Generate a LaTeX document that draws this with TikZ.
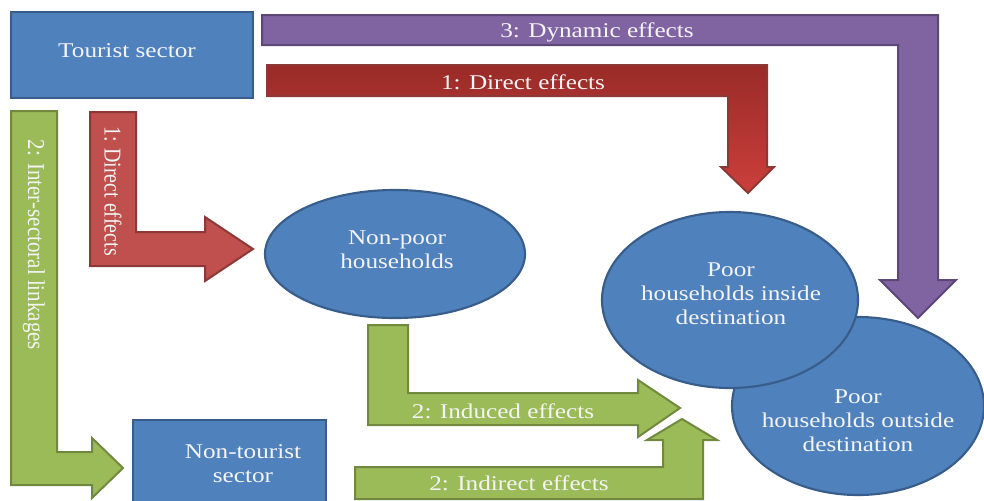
\documentclass[tikz,border=0pt]{standalone}
\usepackage{graphicx}
\usepackage{fontspec}
\setmainfont{Liberation Serif}
\usetikzlibrary{shapes.geometric}
\definecolor{bfill}{HTML}{4F81BD}
\definecolor{bline}{HTML}{385D8A}
\definecolor{pfill}{HTML}{8064A2}
\definecolor{pline}{HTML}{5C4776}
\definecolor{rfill}{HTML}{C0504D}
\definecolor{rline}{HTML}{8C3836}
\definecolor{rtop}{HTML}{992B28}
\definecolor{rbot}{HTML}{CC3F3B}
\definecolor{gfill}{HTML}{9BBB59}
\definecolor{gline}{HTML}{71893F}
\definecolor{txt}{HTML}{F4F4F4}
\newcommand\hs[1]{\scalebox{1.2}[1]{#1}}
\begin{document}
\begin{tikzpicture}[x=0.75pt,y=-0.75pt,
  lbl/.style={text=txt,font=\fontsize{15.75}{18}\selectfont,inner sep=0pt,align=center},
  boxn/.style={draw=bline,fill=bfill,line width=1.6pt,inner sep=0pt},
  elln/.style={ellipse,draw=bline,fill=bfill,line width=1.6pt,inner sep=0pt},
  parrow/.style={draw=pline,fill=pfill,line width=1.5pt,line join=miter},
  rarrow/.style={draw=rline,fill=rfill,line width=1.5pt,line join=miter},
  garrow/.style={draw=gline,fill=gfill,line width=1.5pt,line join=miter}]
\useasboundingbox (0,0) rectangle (984,500);
\clip (0,0) rectangle (984,500);
% boxes
\node[boxn,minimum width=181.5pt,minimum height=64.5pt] (tour) at (132,55) {};
\node[lbl] (tourt) at (127,51) {\hs{Tourist sector}};
\node[boxn,minimum width=144.75pt,minimum height=66pt] (nont) at (229.5,464) {};
\node[lbl] (nontt) at (243,464) {\hs{Non-tourist}\\\hs{sector}};
% purple arrow
\draw[parrow] (262,15) -- (938,15) -- (938,280) -- (956,280) -- (918,318) -- (880,280) -- (898,280) -- (898,45) -- (262,45) -- cycle;
\node[lbl] (dyn) at (597,32) {\hs{3: Dynamic effects}};
% red top arrow
\shadedraw[top color=rtop,bottom color=rbot,draw=rline,line width=1.5pt] (267,65) -- (767,65) -- (767,167) -- (774,167) -- (748,193) -- (721,167) -- (728,167) -- (728,96) -- (267,96) -- cycle;
\node[lbl] (dir1) at (523,82) {\hs{1: Direct effects}};
% green left arrow
\draw[garrow] (11,111) -- (57,111) -- (57,452) -- (92,452) -- (92,438) -- (123,468) -- (92,498) -- (92,485) -- (11,485) -- cycle;
\node[lbl,rotate=-90] (inter) at (34,245) {\scalebox{1}[1.15]{2: Inter-sectoral linkages}};
% red small arrow
\draw[rarrow] (90,112) -- (136,112) -- (136,232) -- (205,232) -- (205,217) -- (253,249) -- (205,281) -- (205,266) -- (90,266) -- cycle;
\node[lbl,rotate=-90] (dir2) at (113,191) {\scalebox{0.95}[1.15]{1: Direct effects}};
% green induced arrow
\draw[garrow] (368,325) -- (408,325) -- (408,393) -- (638,393) -- (638,380) -- (680,408) -- (638,437) -- (638,425) -- (368,425) -- cycle;
\node[lbl] (ind) at (503,411) {\hs{2: Induced effects}};
% green indirect arrow
\draw[garrow] (355,467) -- (663,467) -- (663,440) -- (647,440) -- (682,419) -- (717,440) -- (703,440) -- (703,499) -- (355,499) -- cycle;
\node[lbl] (indir) at (519,483) {\hs{2: Indirect effects}};
% ellipses
\node[elln,minimum width=195pt,minimum height=96pt] (nonpoor) at (395,254) {};
\node[lbl] (nonpoort) at (397,250) {\hs{Non-poor}\\\hs{households}};
\node[elln,minimum width=189pt,minimum height=133.5pt] (outside) at (858,406) {};
\node[lbl] (outsidet) at (858,421) {\hs{Poor}\\\hs{households outside}\\\hs{destination}};
\node[elln,minimum width=192pt,minimum height=132pt] (inside) at (730,300) {};
\node[lbl] (insidet) at (731,294) {\hs{Poor}\\\hs{households inside}\\\hs{destination}};
\end{tikzpicture}
\end{document}
